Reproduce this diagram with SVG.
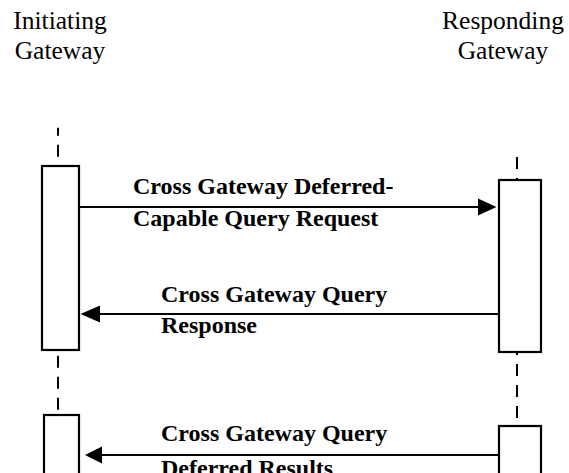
<svg xmlns="http://www.w3.org/2000/svg" width="569" height="473" viewBox="0 0 569 473">
  <defs>
    <style>
      .hdr { font-family: "Liberation Serif", "Times New Roman", serif; font-size: 25.5px; fill: #000; text-anchor: middle; }
      .lbl { font-family: "Liberation Serif", "Times New Roman", serif; font-size: 24px; font-weight: bold; fill: #000; }
      .act { fill: #fff; stroke: #000; stroke-width: 2.2; }
      .life { stroke: #000; stroke-width: 2; stroke-dasharray: 12 9; fill: none; }
      .msg { stroke: #000; stroke-width: 2.2; fill: none; }
      .head { fill: #000; stroke: none; }
    </style>
  </defs>
  <rect width="569" height="473" fill="#fff"/>

  <g id="initiating-gateway">
    <text class="hdr" x="60" y="29">Initiating</text>
    <text class="hdr" x="60" y="59">Gateway</text>
    <line class="life" x1="58" y1="127.7" x2="58" y2="166" stroke-dashoffset="4"/>
    <rect class="act" x="42" y="166" width="37" height="184"/>
    <line class="life" x1="58" y1="350" x2="58" y2="415" stroke-dashoffset="15.3"/>
    <rect class="act" x="44" y="415" width="35" height="80"/>
  </g>

  <g id="responding-gateway">
    <text class="hdr" x="503" y="29">Responding</text>
    <text class="hdr" x="503" y="59">Gateway</text>
    <line class="life" x1="517" y1="157" x2="517" y2="180"/>
    <rect class="act" x="499" y="180" width="42" height="172"/>
    <line class="life" x1="517" y1="352" x2="517" y2="426" stroke-dashoffset="9"/>
    <rect class="act" x="499" y="426" width="42" height="80"/>
  </g>

  <g id="connectors">
    <line class="msg" x1="80" y1="207" x2="479" y2="207"/>
    <polygon class="head" points="478,198.5 496.5,207 478,215.5"/>
    <line class="msg" x1="498" y1="314" x2="99" y2="314"/>
    <polygon class="head" points="100,305.5 80.5,314 100,322.5"/>
    <line class="msg" x1="499" y1="455" x2="101" y2="455"/>
    <polygon class="head" points="102,446.5 85,455 102,463.5"/>
  </g>

  <g id="labels">
    <text class="lbl" x="133" y="194">Cross Gateway Deferred-</text>
    <text class="lbl" x="133" y="226">Capable Query Request</text>
    <text class="lbl" x="161" y="301.5">Cross Gateway Query</text>
    <text class="lbl" x="161" y="333">Response</text>
    <text class="lbl" x="161" y="441">Cross Gateway Query</text>
    <text class="lbl" x="161" y="476">Deferred Results</text>
  </g>
</svg>
